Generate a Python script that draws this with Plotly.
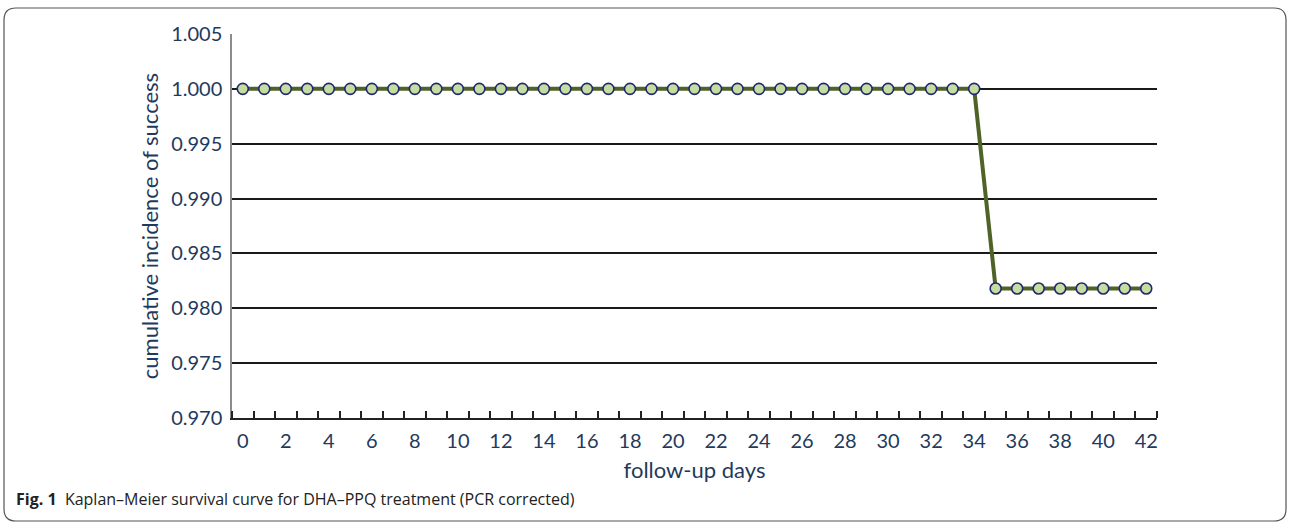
import plotly.graph_objects as go

days = list(range(0, 43))
survival = [1.0] * 35 + [0.9818] * 8
y_ticks = [0.970, 0.975, 0.980, 0.985, 0.990, 0.995, 1.000, 1.005]
x_tick_labels = list(range(0, 43, 2))

W, H = 1290, 523
L, R, T, B = 232, 133, 34, 105
pw, ph = W - L - R, H - T - B

def px(x):
    return (x - L) / pw

def py(y):
    return (H - B - y) / ph

fig = go.Figure()
fig.add_trace(go.Scatter(
    x=days, y=survival, mode="lines+markers",
    line=dict(color="#4f6228", width=4),
    marker=dict(size=11, color="#c6dca0", line=dict(color="#1f2a6e", width=1.6)),
    showlegend=False, cliponaxis=False,
))

txt = "#1f3a5c"
fig.update_layout(
    width=W, height=H,
    margin=dict(l=L, r=R, t=T, b=B),
    paper_bgcolor="white", plot_bgcolor="white",
    font=dict(family="Lato, Noto Sans, sans-serif", color=txt, size=20),
    xaxis=dict(
        range=[-0.5, 42.5], tickmode="array", tickvals=x_tick_labels,
        ticktext=[str(v) for v in x_tick_labels],
        ticks="", showgrid=False, zeroline=False,
        showline=True, linecolor="#222", linewidth=2,
        minor=dict(tick0=-0.5, dtick=1, ticks="inside", ticklen=7,
                   tickcolor="#222", tickwidth=1.5, showgrid=False),
        tickfont=dict(size=20, color=txt), ticklabelstandoff=4,
        title=dict(text="follow-up days", font=dict(size=22, color=txt), standoff=12),
    ),
    yaxis=dict(
        range=[0.970, 1.005], tickmode="array", tickvals=y_ticks,
        tickformat=".3f", showgrid=True, gridcolor="#1a1a1a", gridwidth=1.6,
        zeroline=False, showline=True, linecolor="#8c8c8c", linewidth=1.5,
        ticks="", tickfont=dict(size=20, color=txt), ticklabelstandoff=4,
        title=dict(text="cumulative incidence of success", font=dict(size=22, color=txt), standoff=6),
    ),
)

# rounded frame around the figure
x0, y0, x1, y1, r = 4, 8, 1286, 521, 12
path = (f"M {px(x0+r)},{py(y0)} L {px(x1-r)},{py(y0)} Q {px(x1)},{py(y0)} {px(x1)},{py(y0+r)} "
        f"L {px(x1)},{py(y1-r)} Q {px(x1)},{py(y1)} {px(x1-r)},{py(y1)} "
        f"L {px(x0+r)},{py(y1)} Q {px(x0)},{py(y1)} {px(x0)},{py(y1-r)} "
        f"L {px(x0)},{py(y0+r)} Q {px(x0)},{py(y0)} {px(x0+r)},{py(y0)} Z")
fig.add_shape(type="path", path=path, xref="paper", yref="paper",
              line=dict(color="#555", width=1.2), fillcolor="rgba(0,0,0,0)", layer="below")

fig.add_annotation(
    x=px(14), y=py(499), xref="paper", yref="paper", xanchor="left", yanchor="middle",
    text="<b>Fig. 1</b>  Kaplan–Meier survival curve for DHA–PPQ treatment (PCR corrected)",
    showarrow=False, font=dict(family="Open Sans, Noto Sans, sans-serif", size=16, color="#222"),
)

fig.write_html("out.html", config={"displayModeBar": False})

with open("out.html", encoding="utf-8") as f:
    html = f.read()
html = html.replace("<head>", "<head><style>html,body{margin:0;padding:0;overflow:hidden}</style>", 1)
with open("out.html", "w", encoding="utf-8") as f:
    f.write(html)
